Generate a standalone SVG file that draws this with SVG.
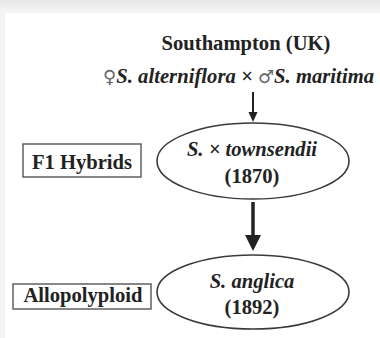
<svg xmlns="http://www.w3.org/2000/svg" width="380" height="338" viewBox="0 0 380 338">
  <defs>
    <linearGradient id="topShade" x1="0" y1="0" x2="0" y2="1">
      <stop offset="0" stop-color="#e6e6e6"/>
      <stop offset="1" stop-color="#f6f6f6"/>
    </linearGradient>
  </defs>
  <style>
    .t { font-family: "Liberation Serif", "Times New Roman", serif; font-size: 20.6px; font-weight: bold; fill: #222; }
    .it { font-style: italic; }
    .sym { font-family: "DejaVu Sans", sans-serif; font-weight: normal; font-style: normal; fill: #666; font-size: 18px; }
    .shape { fill: #fff; stroke: #3a3a3a; stroke-width: 1.6; }
    .box { fill: #fff; stroke: #555; stroke-width: 1.4; }
    .conn { stroke: #222; fill: none; }
    .head { fill: #222; }
  </style>
  <rect x="0" y="0" width="380" height="338" fill="#ffffff"/>
  <rect x="0" y="0" width="380" height="13" fill="url(#topShade)"/>
  <rect x="0" y="13" width="5" height="325" fill="#f3f3f3"/>

  <g id="source">
    <text class="t" x="246" y="50" text-anchor="middle">Southampton (UK)</text>
    <text class="t it" x="103" y="83" textLength="271" lengthAdjust="spacing"><tspan class="sym">♀</tspan>S. alterniflora × <tspan class="sym">♂</tspan>S. maritima</text>
  </g>

  <g id="connectors">
    <line class="conn" x1="253" y1="92" x2="253" y2="114" stroke-width="2"/>
    <polygon class="head" points="248.5,112 257.5,112 253,122"/>
    <line class="conn" x1="253" y1="202" x2="253" y2="237" stroke-width="3.5"/>
    <polygon class="head" points="245,235 261,235 253,251"/>
  </g>

  <g id="townsendii">
    <ellipse class="shape" cx="253" cy="161" rx="96" ry="38"/>
    <text class="t it" x="252" y="156" text-anchor="middle">S. × townsendii</text>
    <text class="t" x="252" y="183" text-anchor="middle">(1870)</text>
  </g>

  <g id="f1-hybrids">
    <rect class="box" x="23" y="144" width="118" height="33"/>
    <text class="t" x="82" y="169" text-anchor="middle">F1 Hybrids</text>
  </g>

  <g id="anglica">
    <ellipse class="shape" cx="253" cy="292" rx="96" ry="37"/>
    <text class="t it" x="252" y="288" text-anchor="middle">S. anglica</text>
    <text class="t" x="252" y="314" text-anchor="middle">(1892)</text>
  </g>

  <g id="allopolyploid">
    <rect class="box" x="13" y="284" width="138" height="25"/>
    <text class="t" x="83" y="302" text-anchor="middle">Allopolyploid</text>
  </g>
</svg>
